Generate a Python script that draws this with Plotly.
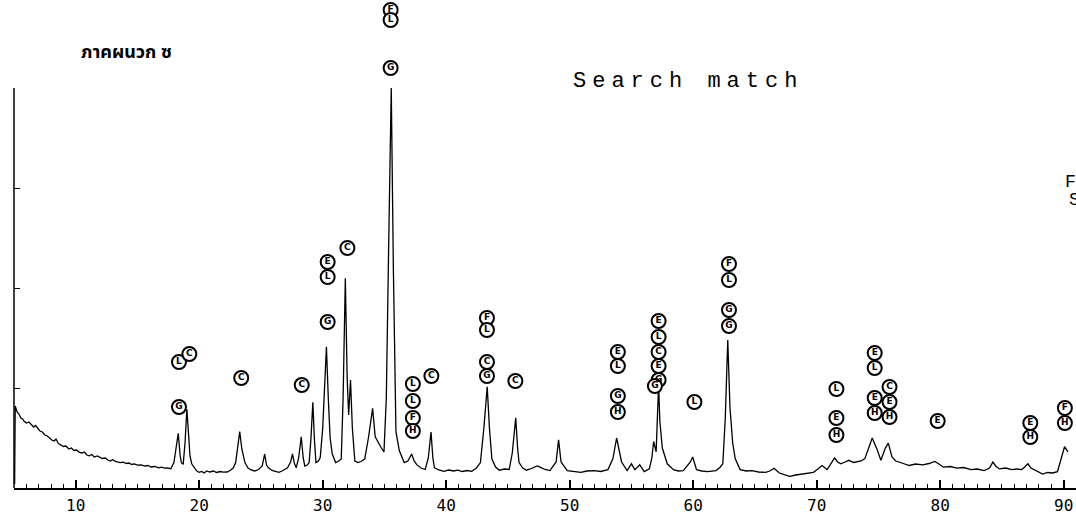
import plotly.graph_objects as go

# ---- XRD trace (2-theta, intensity counts) ----
two_theta = [5.05, 5.1, 5.25, 5.4, 5.55, 5.7, 5.8, 6.0, 6.2, 6.4, 6.6, 6.75, 6.9, 7.1, 7.3, 7.5, 7.7, 7.85,
             8.05, 8.25, 8.4, 8.6, 8.8, 9.0, 9.2, 9.45, 9.65, 9.85, 10.05, 10.3, 10.5, 10.7, 10.9, 11.1,
             11.3, 11.5, 11.75, 11.95, 12.15, 12.4, 12.6, 12.8, 13.0, 13.2, 13.4, 13.6, 13.85, 14.1, 14.3,
             14.5, 14.75, 15.0, 15.3, 15.6, 15.85, 16.1, 16.4, 16.7, 16.95, 17.2, 17.45, 17.7, 17.95, 18.1,
             18.3, 18.45, 18.55, 18.7, 18.85, 19.0, 19.12, 19.25, 19.4, 19.6, 19.8, 20.0, 20.2, 20.4, 20.6,
             20.85, 21.15, 21.4, 21.7, 21.95, 22.25, 22.5, 22.75, 22.95, 23.12, 23.28, 23.45, 23.7, 23.95,
             24.2, 24.5, 24.8, 25.1, 25.3, 25.45, 25.6, 25.9, 26.2, 26.45, 26.7, 26.95, 27.15, 27.4, 27.55,
             27.7, 27.85, 28.05, 28.26, 28.42, 28.55, 28.75, 28.9, 29.05, 29.2, 29.33, 29.45, 29.65, 29.8,
             30.0, 30.15, 30.3, 30.45, 30.6, 30.77, 31.05, 31.3, 31.5, 31.65, 31.83, 31.98, 32.1, 32.25,
             32.4, 32.6, 32.85, 33.1, 33.4, 33.7, 34.04, 34.25, 34.54, 34.75, 34.96, 35.15, 35.35, 35.55,
             35.72, 35.93, 36.2, 36.6, 36.9, 37.2, 37.4, 37.6, 37.95, 38.3, 38.55, 38.77, 38.92, 39.05,
             39.4, 39.8, 40.2, 40.6, 40.95, 41.3, 41.7, 42.07, 42.45, 42.77, 43.05, 43.32, 43.5, 43.7, 44.0,
             44.3, 44.7, 45.1, 45.35, 45.63, 45.78, 45.9, 46.2, 46.5, 46.9, 47.36, 47.6, 48.0, 48.4, 48.9,
             49.1, 49.3, 49.8, 50.3, 50.9, 51.4, 52.0, 52.5, 53.1, 53.5, 53.8, 54.0, 54.2, 54.65, 55.0,
             55.28, 55.67, 56.04, 56.45, 56.65, 56.8, 57.0, 57.1, 57.2, 57.3, 57.5, 57.9, 58.4, 58.8, 59.2,
             59.77, 59.96, 60.27, 60.7, 61.15, 61.5, 61.85, 62.2, 62.4, 62.6, 62.8, 62.98, 63.2, 63.4, 63.8,
             64.3, 64.76, 65.3, 65.86, 66.2, 66.55, 66.97, 67.4, 67.8, 68.3, 68.9, 69.3, 69.74, 70.1, 70.43,
             70.85, 71.15, 71.45, 71.7, 71.95, 72.3, 72.6, 73.0, 73.3, 73.6, 73.9, 74.17, 74.5, 74.86, 75.2,
             75.55, 75.8, 76.1, 76.4, 76.66, 77.1, 77.5, 78.0, 78.6, 79.1, 79.57, 79.9, 80.26, 80.8, 81.36,
             81.9, 82.5, 83.0, 83.57, 84.0, 84.27, 84.5, 84.8, 85.3, 85.8, 86.2, 86.6, 86.85, 87.1, 87.35,
             87.6, 88.0, 88.3, 88.7, 89.1, 89.5, 89.8, 90.07, 90.35]
intensity = [40, 820, 760, 740, 700, 690, 670, 650, 660, 630, 610, 625, 600, 570, 560, 530, 520, 500,
             480, 470, 490, 445, 430, 415, 420, 390, 400, 375, 380, 357, 350, 360, 330, 322,
             335, 310, 320, 305, 295, 300, 280, 270, 285, 265, 262, 254, 258, 245, 250,
             236, 240, 228, 232, 220, 225, 210, 215, 202, 208, 198, 200, 192, 254, 380,
             546, 330, 254, 236, 450, 790, 520, 322, 240, 202, 170, 157, 165, 150, 170,
             160, 170, 155, 165, 158, 160, 175, 200, 254, 420, 563, 390, 254, 200,
             180, 170, 185, 220, 340, 230, 202, 175, 165, 157, 170, 185, 202, 260, 340,
             250, 202, 300, 512, 300, 220, 230, 254, 500, 856, 480, 254, 270, 305,
             600, 1000, 1413, 900, 500, 340, 254, 270, 290, 900, 2097, 1100, 730, 1080,
             600, 270, 254, 265, 290, 500, 797, 512, 443, 400, 360, 900, 2500, 4000,
             2200, 564, 374, 254, 270, 340, 270, 236, 200, 185, 300, 560, 300, 202,
             180, 167, 180, 170, 178, 165, 175, 167, 200, 254, 600, 1011, 600, 290, 210,
             178, 190, 185, 350, 701, 400, 254, 200, 178, 195, 220, 208, 185, 174, 260,
             482, 260, 174, 165, 157, 170, 174, 165, 184, 294, 500, 380, 260, 174, 242,
             184, 232, 164, 191, 300, 465, 362, 700, 1040, 670, 400, 242, 184, 170, 174,
             260, 310, 184, 170, 164, 170, 174, 210, 242, 700, 1480, 800, 450, 294, 184,
             170, 174, 160, 157, 170, 198, 150, 130, 116, 130, 140, 150, 157, 190, 225,
             184, 240, 300, 260, 242, 260, 277, 255, 266, 270, 294, 396, 500, 396, 277,
             396, 448, 310, 270, 260, 240, 225, 240, 232, 245, 266, 240, 208, 215, 198,
             205, 184, 190, 174, 200, 260, 220, 191, 200, 184, 190, 184, 210, 242, 200,
             184, 165, 140, 155, 150, 164, 300, 413, 362]

# ---- phase-identification markers (circled letters) ----
marker_2theta = [18.36, 18.36, 19.2, 23.4, 28.3, 30.4, 30.4, 30.4, 32.0, 35.5, 35.5, 35.5,
                 37.3, 37.3, 37.3, 37.3, 38.8, 43.3, 43.3, 43.3, 43.3, 45.6,
                 53.9, 53.9, 53.9, 53.9, 57.2, 57.2, 57.2, 57.2, 57.2, 56.9, 60.1,
                 62.9, 62.9, 62.9, 62.9, 71.6, 71.6, 71.6, 74.7, 74.7, 74.7, 74.7,
                 75.9, 75.9, 75.9, 79.8, 87.3, 87.3, 90.1, 90.1]
marker_int = [1260, 810, 1340, 1100, 1030, 2260, 2110, 1660, 2400, 4780, 4680, 4200,
              1040, 870, 700, 570, 1120, 1700, 1580, 1260, 1120, 1070,
              1360, 1220, 920, 760, 1670, 1510, 1360, 1220, 1080, 1020, 860,
              2240, 2080, 1780, 1620, 990, 700, 530, 1350, 1200, 900, 750,
              1010, 860, 710, 670, 650, 510, 800, 650]
marker_label = ["L", "G", "C", "C", "C", "E", "L", "G", "C", "F", "L", "G",
                "L", "L", "F", "H", "C", "F", "L", "C", "G", "C",
                "E", "L", "G", "H", "E", "L", "C", "E", "G", "G", "L",
                "F", "L", "G", "G", "L", "E", "H", "E", "L", "E", "H",
                "C", "E", "H", "E", "E", "H", "F", "H"]

x_tick_vals = [10, 20, 30, 40, 50, 60, 70, 80, 90]
y_tick_vals = [1000, 2000, 3000]
y_axis_top = 4000

fig = go.Figure()
fig.add_trace(go.Scatter(x=two_theta, y=intensity, mode="lines",
                         line=dict(color="black", width=1.3), hoverinfo="skip",
                         showlegend=False))
fig.add_trace(go.Scatter(x=marker_2theta, y=marker_int, mode="markers+text",
                         text=marker_label, textposition="middle center",
                         textfont=dict(family="DejaVu Sans", size=9, color="black", weight="bold"),
                         marker=dict(symbol="circle", size=14, color="white",
                                     line=dict(color="black", width=2)),
                         cliponaxis=False, showlegend=False))

fig.update_layout(
    width=1076, height=521,
    margin=dict(l=14, r=0, t=0, b=33, autoexpand=False),
    paper_bgcolor="white", plot_bgcolor="white",
    xaxis=dict(range=[5, 91], tickvals=x_tick_vals, ticks="inside", ticklen=8,
               tickwidth=1.5, tickcolor="black", showline=True, linecolor="black",
               linewidth=1.5, showgrid=False, zeroline=False, automargin=False,
               minor=dict(dtick=1, ticks="inside", ticklen=4, tickcolor="black", tickwidth=1.2),
               tickfont=dict(family="DejaVu Sans Mono", size=16, color="black"),
               ticklabelstandoff=2),
    yaxis=dict(range=[0, 4880], tickvals=y_tick_vals, ticks="inside", ticklen=6,
               tickcolor="black", tickwidth=1.2, showticklabels=False, showline=False,
               showgrid=False, zeroline=False, automargin=False),
    shapes=[dict(type="line", xref="paper", yref="y", x0=0, x1=0, y0=0, y1=y_axis_top,
                 line=dict(color="black", width=1.5))],
    annotations=[
        dict(text="<b>ภาคผนวก ซ</b>", xref="paper", yref="paper", x=0.1064, y=0.893,
             showarrow=False, xanchor="center", yanchor="middle",
             font=dict(family="Noto Sans Thai, Loma, Garuda, Noto Sans, sans-serif", size=18, color="black")),
        dict(text='<span style="letter-spacing:6px">Search match</span>', xref="paper", yref="paper",
             x=0.6347, y=0.832, showarrow=False, xanchor="center", yanchor="middle",
             font=dict(family="Liberation Mono", size=22, color="black")),
        dict(text="F", xref="paper", yref="paper", x=0.9878, y=0.627, showarrow=False,
             xanchor="left", yanchor="middle",
             font=dict(family="Liberation Mono", size=18, color="black")),
        dict(text="S", xref="paper", yref="paper", x=0.9915, y=0.59, showarrow=False,
             xanchor="left", yanchor="middle",
             font=dict(family="Liberation Mono", size=18, color="black")),
    ],
)

fig.write_html("out.html", config={"displayModeBar": False},
               post_script="document.body.style.margin='0';document.body.style.overflow='hidden';")
